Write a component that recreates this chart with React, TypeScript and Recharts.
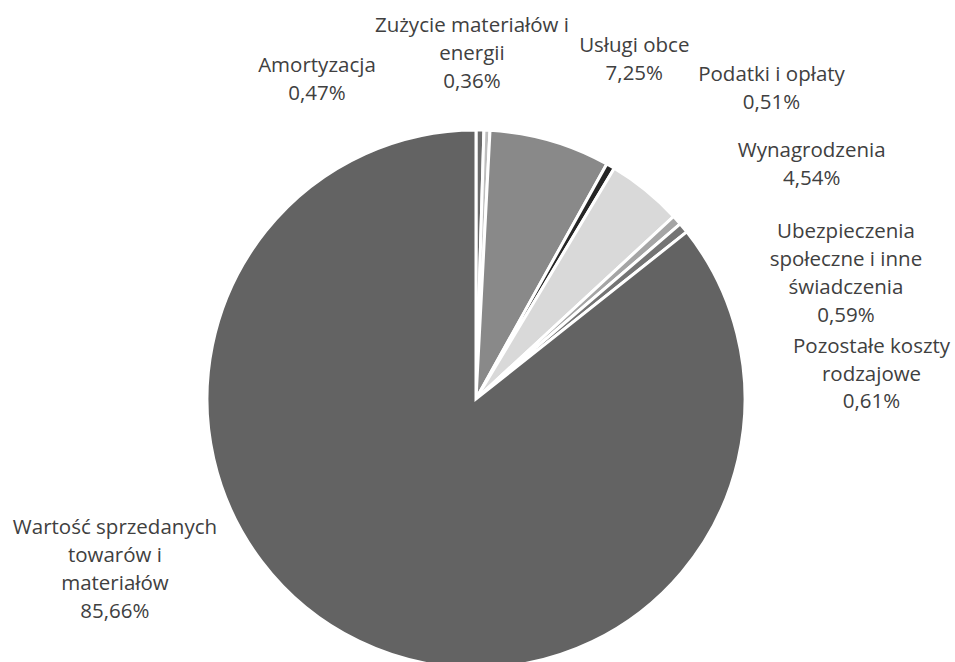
import { Cell, Pie, PieChart } from 'recharts';

const categories = [
  'Amortyzacja',
  'Zużycie materiałów i energii',
  'Usługi obce',
  'Podatki i opłaty',
  'Wynagrodzenia',
  'Ubezpieczenia społeczne i inne świadczenia',
  'Pozostałe koszty rodzajowe',
  'Wartość sprzedanych towarów i materiałów',
];

const shares = [0.47, 0.36, 7.25, 0.51, 4.54, 0.59, 0.61, 85.66];

// how the category names wrap in the labels
const labelLines = [
  ['Amortyzacja'],
  ['Zużycie materiałów i', 'energii'],
  ['Usługi obce'],
  ['Podatki i opłaty'],
  ['Wynagrodzenia'],
  ['Ubezpieczenia', 'społeczne i inne', 'świadczenia'],
  ['Pozostałe koszty', 'rodzajowe'],
  ['Wartość sprzedanych', 'towarów i', 'materiałów'],
];

const colors = ['#6b6b6b', '#bdbdbd', '#898989', '#262626', '#d9d9d9', '#a5a5a5', '#747474', '#636363'];

// label placement relative to the slice's outer edge point (dx, dy)
const labelOffsets: [number, number][] = [
  [-163, -58],
  [-15, -98],
  [84, -88],
  [161, -85],
  [166, -33],
  [169, 18],
  [188, 125],
  [-244, -107],
];

const data = categories.map((name, i) => ({ name, value: shares[i] }));

const RADIAN = Math.PI / 180;
const LINE_HEIGHT = 27.8;

function formatPct(v: number) {
  return `${v.toFixed(2).replace('.', ',')}%`;
}

function renderLabel(props: any) {
  const { cx, cy, midAngle, outerRadius, index, value } = props;
  const px = cx + outerRadius * Math.cos(-midAngle * RADIAN);
  const py = cy + outerRadius * Math.sin(-midAngle * RADIAN);
  const [dx, dy] = labelOffsets[index];
  const lines = [...labelLines[index], formatPct(value)];
  return (
    <text
      key={`lbl-${index}`}
      x={px + dx}
      y={py + dy}
      textAnchor="middle"
      fill="#404040"
      fontSize={20.5}
      fontFamily="'Open Sans', sans-serif"
    >
      {lines.map((l, j) => (
        <tspan key={j} x={px + dx} y={py + dy + j * LINE_HEIGHT}>
          {l}
        </tspan>
      ))}
    </text>
  );
}

export default function App() {
  return (
    <div style={{ position: 'absolute', left: 0, top: 0, width: 955, height: 662, background: '#fff' }}>
      <PieChart width={955} height={662} margin={{ top: 0, right: 0, bottom: 0, left: 0 }}>
        <Pie
          data={data}
          dataKey="value"
          nameKey="name"
          cx={476}
          cy={399}
          outerRadius={269}
          startAngle={90}
          endAngle={-270}
          stroke="#ffffff"
          strokeWidth={3}
          label={renderLabel}
          labelLine={false}
          isAnimationActive={false}
        >
          {data.map((d, i) => (
            <Cell key={d.name} fill={colors[i]} />
          ))}
        </Pie>
      </PieChart>
    </div>
  );
}
